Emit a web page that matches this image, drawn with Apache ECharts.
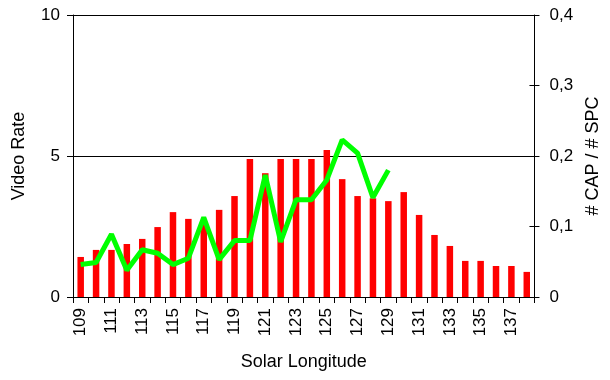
<!DOCTYPE html>
<html>
<head>
<meta charset="utf-8">
<script src="https://cdn.jsdelivr.net/npm/echarts@6/dist/echarts.min.js"></script>
<style>html,body{margin:0;padding:0;background:#fff;}#c{width:610px;height:380px;}</style>
</head>
<body>
<div id="c"></div>
<script>
var categories = ['109','110','111','112','113','114','115','116','117','118','119','120','121','122','123','124','125','126','127','128','129','130','131','132','133','134','135','136','137','138'];
var videoRate = [1.42,1.67,1.67,1.88,2.06,2.48,3.01,2.77,2.6,3.09,3.58,4.89,4.39,4.89,4.89,4.89,5.21,4.18,3.58,3.5,3.4,3.72,2.91,2.2,1.81,1.28,1.28,1.1,1.1,0.89];
var capSpc = [0.046,0.049,0.089,0.038,0.067,0.062,0.046,0.055,0.113,0.053,0.080,0.080,0.173,0.078,0.138,0.138,0.166,0.223,0.204,0.141,0.180];
var leftTicks = [0,5,10];
var rightTicks = [0,0.1,0.2,0.3,0.4];

var font = 'Liberation Sans, Arial, sans-serif';
var chart = echarts.init(document.getElementById('c'), null, {renderer:'canvas'});
chart.setOption({
  animation: false,
  backgroundColor: '#fff',
  grid: {left: 73, right: 75, top: 15, bottom: 83, containLabel: false},
  xAxis: {
    type: 'category',
    data: categories,
    boundaryGap: true,
    name: 'Solar Longitude',
    nameLocation: 'middle',
    nameGap: 56,
    nameTextStyle: {fontFamily: font, fontSize: 18, color: '#000'},
    axisLine: {lineStyle: {color: '#000', width: 1}},
    axisTick: {show: true, interval: 0, length: 6, lineStyle: {color: '#000'}},
    axisLabel: {interval: 1, rotate: 90, fontFamily: font, fontSize: 17, color: '#000', margin: 11}
  },
  yAxis: [{
    type: 'value',
    min: leftTicks[0], max: leftTicks[leftTicks.length-1], interval: 5,
    position: 'left',
    name: 'Video Rate',
    nameLocation: 'middle',
    nameGap: 45,
    nameTextStyle: {fontFamily: font, fontSize: 18, color: '#000'},
    axisLine: {show: true, lineStyle: {color: '#000', width: 1}},
    axisTick: {show: true, length: 6, lineStyle: {color: '#000'}},
    axisLabel: {fontFamily: font, fontSize: 17, color: '#000', margin: 13},
    splitLine: {show: true, lineStyle: {color: '#000', width: 1}}
  }, {
    type: 'value',
    min: rightTicks[0], max: rightTicks[rightTicks.length-1], interval: 0.1,
    position: 'right',
    name: '# CAP / # SPC',
    nameLocation: 'middle',
    nameGap: 48,
    nameTextStyle: {fontFamily: font, fontSize: 18, color: '#000'},
    axisLine: {show: true, lineStyle: {color: '#000', width: 1}},
    axisTick: {show: true, length: 5, lineStyle: {color: '#000'}},
    axisLabel: {fontFamily: font, fontSize: 17, color: '#000', margin: 15,
      formatter: function(v){ return v === 0 ? '0' : String(Math.round(v*10)/10).replace('.', ','); }},
    splitLine: {show: false}
  }, {
    type: 'value',
    min: rightTicks[0], max: rightTicks[rightTicks.length-1], interval: 0.1,
    position: 'right',
    axisLine: {show: false},
    axisTick: {show: true, inside: true, length: 5, lineStyle: {color: '#000'}},
    axisLabel: {show: false},
    splitLine: {show: false}
  }],
  series: [{
    type: 'bar',
    data: videoRate,
    yAxisIndex: 0,
    barWidth: 6.5,
    itemStyle: {color: '#ff0000'},
    z: 2
  }, {
    type: 'line',
    data: capSpc,
    yAxisIndex: 1,
    showSymbol: false,
    symbol: 'none',
    lineStyle: {color: '#00ff00', width: 5},
    z: 3
  }]
});
</script>
</body>
</html>
